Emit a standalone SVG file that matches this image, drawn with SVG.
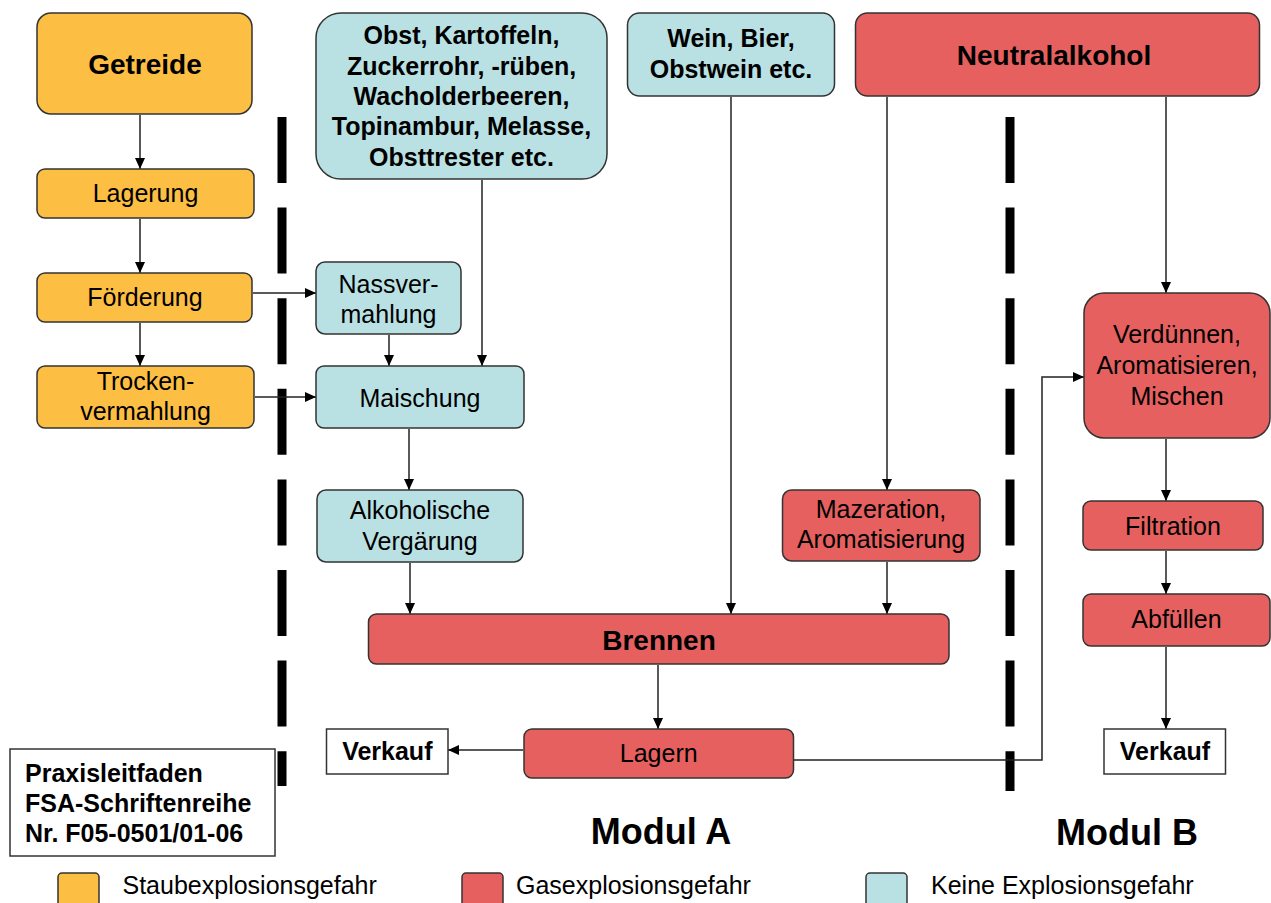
<svg xmlns="http://www.w3.org/2000/svg" width="1271" height="903" viewBox="0 0 1271 903">
<style>
text{font-family:"Liberation Sans",Arial,sans-serif;fill:#000;text-anchor:middle}
.b{font-weight:bold}
.n{font-size:25px}
.h{font-size:28px;font-weight:bold}
.m{font-size:36px;font-weight:bold}
.or{fill:#FDBE44;stroke:#333;stroke-width:1.5}
.rd{fill:#E5605F;stroke:#333;stroke-width:1.5}
.bl{fill:#B9E0E3;stroke:#333;stroke-width:1.5}
.wh{fill:#fff;stroke:#333;stroke-width:1.5}
.c{fill:none;stroke:#222;stroke-width:1.5}
.d{fill:none;stroke:#000;stroke-width:9;stroke-dasharray:66 24.6}
</style>
<defs>
<marker id="ah" markerWidth="11" markerHeight="10" refX="11" refY="5" orient="auto" markerUnits="userSpaceOnUse">
<path d="M0,0 L11,5 L0,10 Z" fill="#000"/>
</marker>
</defs>

<g id="dividers">
<line class="d" x1="282" y1="117" x2="282" y2="786"/>
<line class="d" x1="1010" y1="117" x2="1010" y2="791"/>
</g>

<g id="connectors" class="c" marker-end="url(#ah)">
<line x1="140" y1="115" x2="140" y2="169"/>
<line x1="140" y1="219" x2="140" y2="273"/>
<line x1="140" y1="323" x2="140" y2="366"/>
<line x1="253" y1="293" x2="316" y2="293"/>
<line x1="255" y1="397" x2="316" y2="397"/>
<line x1="389" y1="335" x2="389" y2="366"/>
<line x1="482" y1="180" x2="482" y2="366"/>
<line x1="409" y1="429" x2="409" y2="490"/>
<line x1="410" y1="563" x2="410" y2="614"/>
<line x1="731" y1="97" x2="731" y2="614"/>
<line x1="887" y1="97" x2="887" y2="490"/>
<line x1="887" y1="562" x2="887" y2="614"/>
<line x1="1166" y1="97" x2="1166" y2="293"/>
<line x1="1166" y1="439" x2="1166" y2="501"/>
<line x1="1166" y1="551" x2="1166" y2="594"/>
<line x1="1166" y1="647" x2="1166" y2="729"/>
<line x1="658" y1="665" x2="658" y2="729"/>
<line x1="523" y1="750" x2="448" y2="750"/>
<polyline points="794,760 1042,760 1042,377 1084,377"/>
</g>

<g id="getreide"><rect class="or" x="37" y="13" width="215" height="101" rx="14"/><text class="h" x="145" y="74">Getreide</text></g>
<g id="lagerung"><rect class="or" x="37" y="169" width="217" height="49" rx="8"/><text class="n" x="145.5" y="202">Lagerung</text></g>
<g id="foerderung"><rect class="or" x="37" y="273" width="215" height="49" rx="8"/><text class="n" x="145" y="306">Förderung</text></g>
<g id="trockenvermahlung"><rect class="or" x="37" y="366" width="217" height="62" rx="8"/><text class="n" x="145.5" y="390">Trocken-</text><text class="n" x="145.5" y="420">vermahlung</text></g>

<g id="obst"><rect class="bl" x="316" y="13" width="291" height="166" rx="25"/>
<text class="n b" x="461.5" y="44">Obst, Kartoffeln,</text>
<text class="n b" x="461.5" y="74.5">Zuckerrohr, -rüben,</text>
<text class="n b" x="461.5" y="105">Wacholderbeeren,</text>
<text class="n b" x="461.5" y="135">Topinambur, Melasse,</text>
<text class="n b" x="461.5" y="165.5">Obsttrester etc.</text></g>
<g id="nassvermahlung"><rect class="bl" x="316" y="262" width="145" height="72" rx="9"/><text class="n" x="388.5" y="292.5">Nassver-</text><text class="n" x="388.5" y="322.5">mahlung</text></g>
<g id="maischung"><rect class="bl" x="316" y="366" width="208" height="62" rx="8"/><text class="n" x="420" y="406.5">Maischung</text></g>
<g id="vergaerung"><rect class="bl" x="317" y="490" width="206" height="72" rx="9"/><text class="n" x="420" y="519">Alkoholische</text><text class="n" x="420" y="550">Vergärung</text></g>

<g id="wein"><rect class="bl" x="627.5" y="13" width="207" height="83" rx="12"/><text class="n b" x="731" y="47.3">Wein, Bier,</text><text class="n b" x="731" y="78.3">Obstwein etc.</text></g>
<g id="neutralalkohol"><rect class="rd" x="855.5" y="13" width="404" height="83" rx="12"/><text class="h" x="1054" y="65">Neutralalkohol</text></g>
<g id="mazeration"><rect class="rd" x="782.5" y="490" width="197.5" height="71" rx="9"/><text class="n" x="881" y="518">Mazeration,</text><text class="n" x="881" y="548">Aromatisierung</text></g>
<g id="brennen"><rect class="rd" x="368.5" y="614" width="580.5" height="50" rx="8"/><text class="h" x="659" y="650">Brennen</text></g>
<g id="lagern"><rect class="rd" x="524" y="729" width="269.5" height="49" rx="8"/><text class="n" x="658.7" y="762">Lagern</text></g>
<g id="verkauf-a"><rect class="wh" x="326.5" y="729" width="121.5" height="45"/><text class="n b" x="387.3" y="760">Verkauf</text></g>

<g id="verduennen"><rect class="rd" x="1084" y="293" width="186" height="145" rx="20"/>
<text class="n" x="1177" y="343">Verdünnen,</text><text class="n" x="1177" y="374">Aromatisieren,</text><text class="n" x="1177" y="405">Mischen</text></g>
<g id="filtration"><rect class="rd" x="1083" y="501" width="180" height="49" rx="8"/><text class="n" x="1173" y="535">Filtration</text></g>
<g id="abfuellen"><rect class="rd" x="1083" y="594" width="187" height="52" rx="8"/><text class="n" x="1176.5" y="628">Abfüllen</text></g>
<g id="verkauf-b"><rect class="wh" x="1104" y="729" width="121.5" height="45"/><text class="n b" x="1165" y="760">Verkauf</text></g>

<g id="praxis"><rect class="wh" x="10" y="749" width="265" height="107"/>
<text class="n b" x="25" y="782" style="text-anchor:start">Praxisleitfaden</text>
<text class="n b" x="25" y="812" style="text-anchor:start">FSA-Schriftenreihe</text>
<text class="n b" x="25" y="842" style="text-anchor:start">Nr. F05-0501/01-06</text></g>

<g id="modul-a"><text class="m" x="661" y="844">Modul A</text></g>
<g id="modul-b"><text class="m" x="1127" y="845">Modul B</text></g>

<g id="legend">
<rect class="or" x="58" y="873" width="41" height="40" rx="4"/>
<text class="n" x="122.5" y="894" style="text-anchor:start">Staubexplosionsgefahr</text>
<rect class="rd" x="462" y="873" width="41" height="40" rx="4"/>
<text class="n" x="516" y="894" style="text-anchor:start">Gasexplosionsgefahr</text>
<rect class="bl" x="866" y="873" width="41" height="40" rx="4"/>
<text class="n" x="931" y="894" style="text-anchor:start">Keine Explosionsgefahr</text>
</g>
</svg>
